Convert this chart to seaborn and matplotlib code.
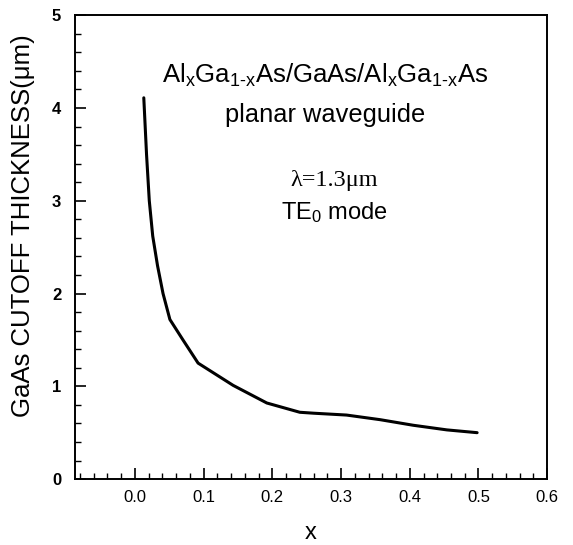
import matplotlib
matplotlib.use("Agg")
import matplotlib.pyplot as plt
import seaborn as sns
import numpy as np
import pandas as pd
from matplotlib.ticker import MultipleLocator

x_al = [0.013, 0.017, 0.021, 0.026, 0.033, 0.041, 0.051, 0.07, 0.092, 0.143, 0.192, 0.24, 0.26, 0.308, 0.357, 0.405, 0.454, 0.498]
thick = [4.11, 3.5, 3.0, 2.62, 2.3, 2.0, 1.72, 1.5, 1.25, 1.01, 0.82, 0.72, 0.71, 0.69, 0.64, 0.58, 0.53, 0.50]
x_ticks = [0.0, 0.1, 0.2, 0.3, 0.4, 0.5, 0.6]
y_ticks = [0, 1, 2, 3, 4, 5]

sns.set_style("ticks")
plt.rcParams['font.family'] = ['Liberation Sans', 'DejaVu Sans']
plt.rcParams['mathtext.fontset'] = 'custom'
plt.rcParams['mathtext.rm'] = 'Liberation Sans'
plt.rcParams['mathtext.it'] = 'Liberation Sans'
for k in ['text.color', 'axes.labelcolor', 'xtick.color', 'ytick.color', 'axes.edgecolor']:
    plt.rcParams[k] = 'black'

df = pd.DataFrame({"x": x_al, "t": thick})
fig = plt.figure(figsize=(5.73, 5.45), dpi=100)
ax = fig.add_axes([0.131, 0.121, 0.824, 0.851])
sns.lineplot(data=df, x="x", y="t", color="black", lw=2.2, ax=ax, sort=False)

ax.set_xlim(-0.087, 0.6)
ax.set_ylim(0, 5)
ax.set_xticks(x_ticks)
ax.set_xticklabels([f"{v:.1f}" for v in x_ticks])
ax.set_yticks(y_ticks)
ax.set_yticklabels([str(v) for v in y_ticks], fontweight='bold')
ax.xaxis.set_minor_locator(MultipleLocator(0.02))
ax.yaxis.set_minor_locator(MultipleLocator(0.2))
ax.tick_params(which='major', direction='in', length=8, width=1.2, labelsize=12, pad=8)
ax.tick_params(which='minor', direction='in', length=4, width=1.0)
ax.tick_params(axis='y', pad=10)
for s in ax.spines.values():
    s.set_linewidth(1.4)
    s.set_color('black')

ax.set_xlabel("x", fontsize=17, labelpad=12)
ax.set_ylabel("GaAs CUTOFF THICKNESS(μm)", fontsize=18.5)
ax.yaxis.set_label_coords(-0.084, 0.547)

tx = 0.277
tx2 = 0.29
ax.text(tx, 4.35, r'Al$_\mathrm{x}$Ga$_\mathrm{1\text{-}x}$As/GaAs/Al$_\mathrm{x}$Ga$_\mathrm{1\text{-}x}$As',
        ha='center', va='center', fontsize=18.5)
ax.text(tx, 3.93, 'planar waveguide', ha='center', va='center', fontsize=18.3)
ax.text(tx2, 3.22, 'λ=1.3μm', ha='center', va='center', fontsize=17.5, family=['Liberation Serif', 'DejaVu Serif'])
ax.text(tx2, 2.87, r'TE$_0$ mode', ha='center', va='center', fontsize=17)

fig.savefig("out.png", dpi=100)
